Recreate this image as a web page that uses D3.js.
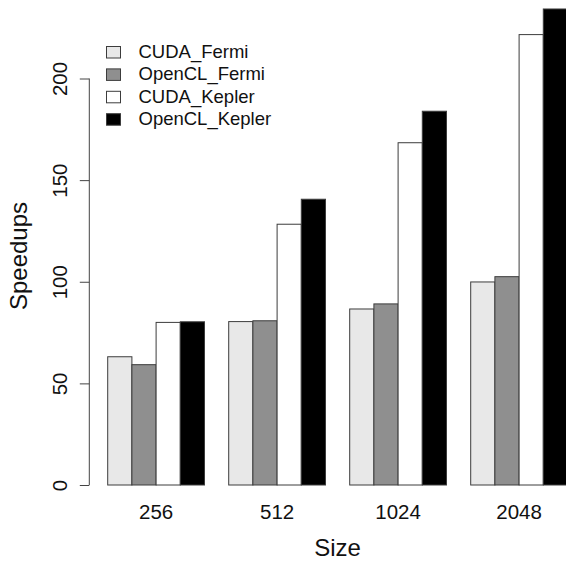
<!DOCTYPE html>
<html>
<head>
<meta charset="utf-8">
<script src="https://cdn.jsdelivr.net/npm/d3@7"></script>
<style>
  html, body { margin: 0; padding: 0; background: #fff; }
  svg { display: block; }
  text { font-family: "Liberation Sans", Arial, Helvetica, sans-serif; fill: #111; }
</style>
</head>
<body>
<script>
const sizes = ["256", "512", "1024", "2048"];
const seriesNames = ["CUDA_Fermi", "OpenCL_Fermi", "CUDA_Kepler", "OpenCL_Kepler"];
const seriesColors = ["#e8e8e8", "#8f8f8f", "#ffffff", "#000000"];
const CUDA_Fermi = [63.1, 80.4, 86.6, 99.9];
const OpenCL_Fermi = [59.2, 80.8, 89.1, 102.5];
const CUDA_Kepler = [80.0, 128.3, 168.4, 221.6];
const OpenCL_Kepler = [80.3, 140.6, 183.9, 234.2];
const yTicks = [0, 50, 100, 150, 200];
const xLabel = "Size";
const yLabel = "Speedups";

const seriesValues = [CUDA_Fermi, OpenCL_Fermi, CUDA_Kepler, OpenCL_Kepler];

const W = 566, H = 561;
const svg = d3.select("body").append("svg").attr("width", W).attr("height", H);

// R barplot units: each group = 1 space + 4 bars
const x = d3.scaleLinear().domain([0, 20]).range([83.5, 567.5]);
const y = d3.scaleLinear().domain([0, 200]).range([485, 78.5]);

const bars = [];
sizes.forEach((s, g) => {
  seriesValues.forEach((vals, k) => {
    bars.push({ g, k, v: vals[g], u: g * 5 + 1 + k });
  });
});

svg.append("g").selectAll("rect").data(bars).join("rect")
  .attr("x", d => x(d.u))
  .attr("width", d => x(d.u + 1) - x(d.u))
  .attr("y", d => y(d.v))
  .attr("height", d => y(0) - y(d.v))
  .attr("fill", d => seriesColors[d.k])
  .attr("stroke", "#3c3c3c")
  .attr("stroke-width", 1);

// Y axis (R style: line spans tick range, rotated labels)
const axisX = x(0.24);
const yAxis = d3.axisLeft(y).tickValues(yTicks).tickSize(9.5).tickFormat(d3.format("d"));
const ya = svg.append("g").attr("transform", `translate(${axisX},0)`).call(yAxis);
ya.select(".domain").attr("d", `M-0,${y(0)}V${y(200)}`).attr("stroke", "#444").attr("fill", "none");
ya.selectAll(".tick line").attr("stroke", "#444");
ya.selectAll(".tick text")
  .attr("x", null).attr("dy", null)
  .attr("transform", "translate(-22,0) rotate(-90)")
  .attr("text-anchor", "middle")
  .attr("y", 0)
  .style("font-size", "20.5px")
  .style("font-family", "'Liberation Sans', Arial, sans-serif")
  .attr("fill", "#111");

// X group labels
svg.append("g").selectAll("text").data(sizes).join("text")
  .attr("x", (d, i) => x(i * 5 + 3))
  .attr("y", 519)
  .attr("text-anchor", "middle")
  .style("font-size", "20.5px")
  .text(d => d);

// Axis titles
svg.append("text")
  .attr("x", (x(0.24) + x(20.76)) / 2)
  .attr("y", 556)
  .attr("text-anchor", "middle")
  .style("font-size", "24px")
  .text(xLabel);

svg.append("text")
  .attr("transform", `translate(27,256) rotate(-90)`)
  .attr("text-anchor", "middle")
  .style("font-size", "24px")
  .text(yLabel);

// Legend
const leg = svg.append("g");
seriesNames.forEach((name, i) => {
  const by = 58 + i * 22.4;
  leg.append("rect")
    .attr("x", 106.5).attr("y", by - 11.5)
    .attr("width", 14).attr("height", 11.5)
    .attr("fill", seriesColors[i])
    .attr("stroke", "#3c3c3c").attr("stroke-width", 1);
  leg.append("text")
    .attr("x", 138.5).attr("y", by)
    .style("font-size", "18.5px")
    .text(name);
});
</script>
</body>
</html>
